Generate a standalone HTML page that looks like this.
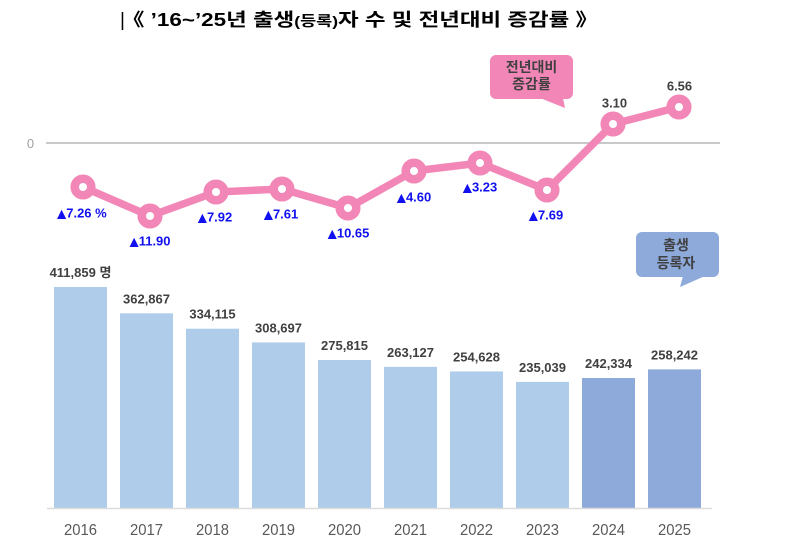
<!DOCTYPE html>
<html><head><meta charset="utf-8">
<style>
html,body{margin:0;padding:0;background:#fff;}
svg{display:block;}
text{font-family:"Liberation Sans","Noto Sans CJK KR",sans-serif;}
</style></head>
<body>
<svg width="800" height="558" viewBox="0 0 800 558" xmlns="http://www.w3.org/2000/svg">
<rect width="800" height="558" fill="#fff"/>
<!-- title -->
<text x="120" y="26" font-size="19" fill="#000" font-weight="normal">|</text>
<text x="122" y="26" font-size="18" font-weight="bold" fill="#000" textLength="476" lengthAdjust="spacingAndGlyphs">《 ’16~’25년 출생<tspan font-size="14">(등록)</tspan>자 수 및 전년대비 증감률 》</text>

<!-- zero line -->
<line x1="46" y1="143" x2="720" y2="143" stroke="#C9C9C9" stroke-width="2"/>
<text x="30.5" y="148" font-size="13" fill="#A0A0A0" text-anchor="middle">0</text>

<!-- bars -->
<g fill="#AFCDEB">
<rect x="54" y="287" width="53" height="221"/>
<rect x="120" y="313.3" width="53" height="194.7"/>
<rect x="186" y="328.7" width="53" height="179.3"/>
<rect x="252" y="342.4" width="53" height="165.6"/>
<rect x="318" y="360" width="53" height="148"/>
<rect x="384" y="366.8" width="53" height="141.2"/>
<rect x="450" y="371.4" width="53" height="136.6"/>
<rect x="516" y="381.9" width="53" height="126.1"/>
</g>
<g fill="#8EAADB">
<rect x="582" y="378" width="53" height="130"/>
<rect x="648" y="369.4" width="53" height="138.6"/>
</g>
<line x1="47" y1="508.5" x2="712" y2="508.5" stroke="#DCDCDC" stroke-width="1.5"/>

<!-- bar value labels -->
<g font-size="13" font-weight="bold" fill="#404040" text-anchor="middle">
<text x="80.5" y="277">411,859 명</text>
<text x="146.5" y="303.5">362,867</text>
<text x="212.5" y="318.5">334,115</text>
<text x="278.5" y="332.5">308,697</text>
<text x="344.5" y="350">275,815</text>
<text x="410.5" y="357">263,127</text>
<text x="476.5" y="361.5">254,628</text>
<text x="542.5" y="372">235,039</text>
<text x="608.5" y="368">242,334</text>
<text x="674.5" y="359.5">258,242</text>
</g>

<!-- year labels -->
<g font-size="16" fill="#595959" text-anchor="middle">
<text x="80.5" y="535" textLength="33" lengthAdjust="spacingAndGlyphs">2016</text>
<text x="146.5" y="535" textLength="33" lengthAdjust="spacingAndGlyphs">2017</text>
<text x="212.5" y="535" textLength="33" lengthAdjust="spacingAndGlyphs">2018</text>
<text x="278.5" y="535" textLength="33" lengthAdjust="spacingAndGlyphs">2019</text>
<text x="344.5" y="535" textLength="33" lengthAdjust="spacingAndGlyphs">2020</text>
<text x="410.5" y="535" textLength="33" lengthAdjust="spacingAndGlyphs">2021</text>
<text x="476.5" y="535" textLength="33" lengthAdjust="spacingAndGlyphs">2022</text>
<text x="542.5" y="535" textLength="33" lengthAdjust="spacingAndGlyphs">2023</text>
<text x="608.5" y="535" textLength="33" lengthAdjust="spacingAndGlyphs">2024</text>
<text x="674.5" y="535" textLength="33" lengthAdjust="spacingAndGlyphs">2025</text>
</g>

<!-- line series -->
<polyline points="83,187 150,216 216,192 282,189 348,208 414,171 480,163 547,190 613,124 679,107" fill="none" stroke="#F287B7" stroke-width="7.5" stroke-linejoin="round"/>
<g fill="#fff" stroke="#F287B7" stroke-width="8.5">
<circle cx="83" cy="187" r="8.3"/>
<circle cx="150" cy="216" r="8.3"/>
<circle cx="216" cy="192" r="8.3"/>
<circle cx="282" cy="189" r="8.3"/>
<circle cx="348" cy="208" r="8.3"/>
<circle cx="414" cy="171" r="8.3"/>
<circle cx="480" cy="163" r="8.3"/>
<circle cx="547" cy="190" r="8.3"/>
<circle cx="613" cy="124" r="8.3"/>
<circle cx="679" cy="107" r="8.3"/>
</g>

<!-- line labels -->
<g font-size="13" font-weight="bold" fill="#1010F0">
<text x="57" y="217.5"><tspan font-family="DejaVu Sans" font-size="12">▲</tspan>7.26 %</text>
<text x="150" y="245.5" text-anchor="middle"><tspan font-family="DejaVu Sans" font-size="12">▲</tspan>11.90</text>
<text x="215" y="221.5" text-anchor="middle"><tspan font-family="DejaVu Sans" font-size="12">▲</tspan>7.92</text>
<text x="281" y="218.5" text-anchor="middle"><tspan font-family="DejaVu Sans" font-size="12">▲</tspan>7.61</text>
<text x="348.5" y="237.5" text-anchor="middle"><tspan font-family="DejaVu Sans" font-size="12">▲</tspan>10.65</text>
<text x="414" y="201.5" text-anchor="middle"><tspan font-family="DejaVu Sans" font-size="12">▲</tspan>4.60</text>
<text x="480" y="191.5" text-anchor="middle"><tspan font-family="DejaVu Sans" font-size="12">▲</tspan>3.23</text>
<text x="546" y="219.5" text-anchor="middle"><tspan font-family="DejaVu Sans" font-size="12">▲</tspan>7.69</text>
</g>
<g font-size="13" font-weight="bold" fill="#404040" text-anchor="middle">
<text x="614.5" y="107.5">3.10</text>
<text x="679.5" y="90.5">6.56</text>
</g>

<!-- pink callout -->
<rect x="490" y="55" width="83" height="44" rx="6" fill="#F287B7"/>
<polygon points="540,98 563,98 565,108" fill="#F287B7"/>
<g font-size="14" font-weight="bold" fill="#404040" text-anchor="middle">
<text x="531.5" y="72">전년대비</text>
<text x="531.5" y="89">증감률</text>
</g>

<!-- blue callout -->
<rect x="636" y="232" width="83" height="45" rx="6" fill="#8EAADB"/>
<polygon points="683,276 705,276 680,287" fill="#8EAADB"/>
<g font-size="14" font-weight="bold" fill="#404040" text-anchor="middle">
<text x="676" y="250">출생</text>
<text x="676" y="268">등록자</text>
</g>
</svg>
</body></html>
